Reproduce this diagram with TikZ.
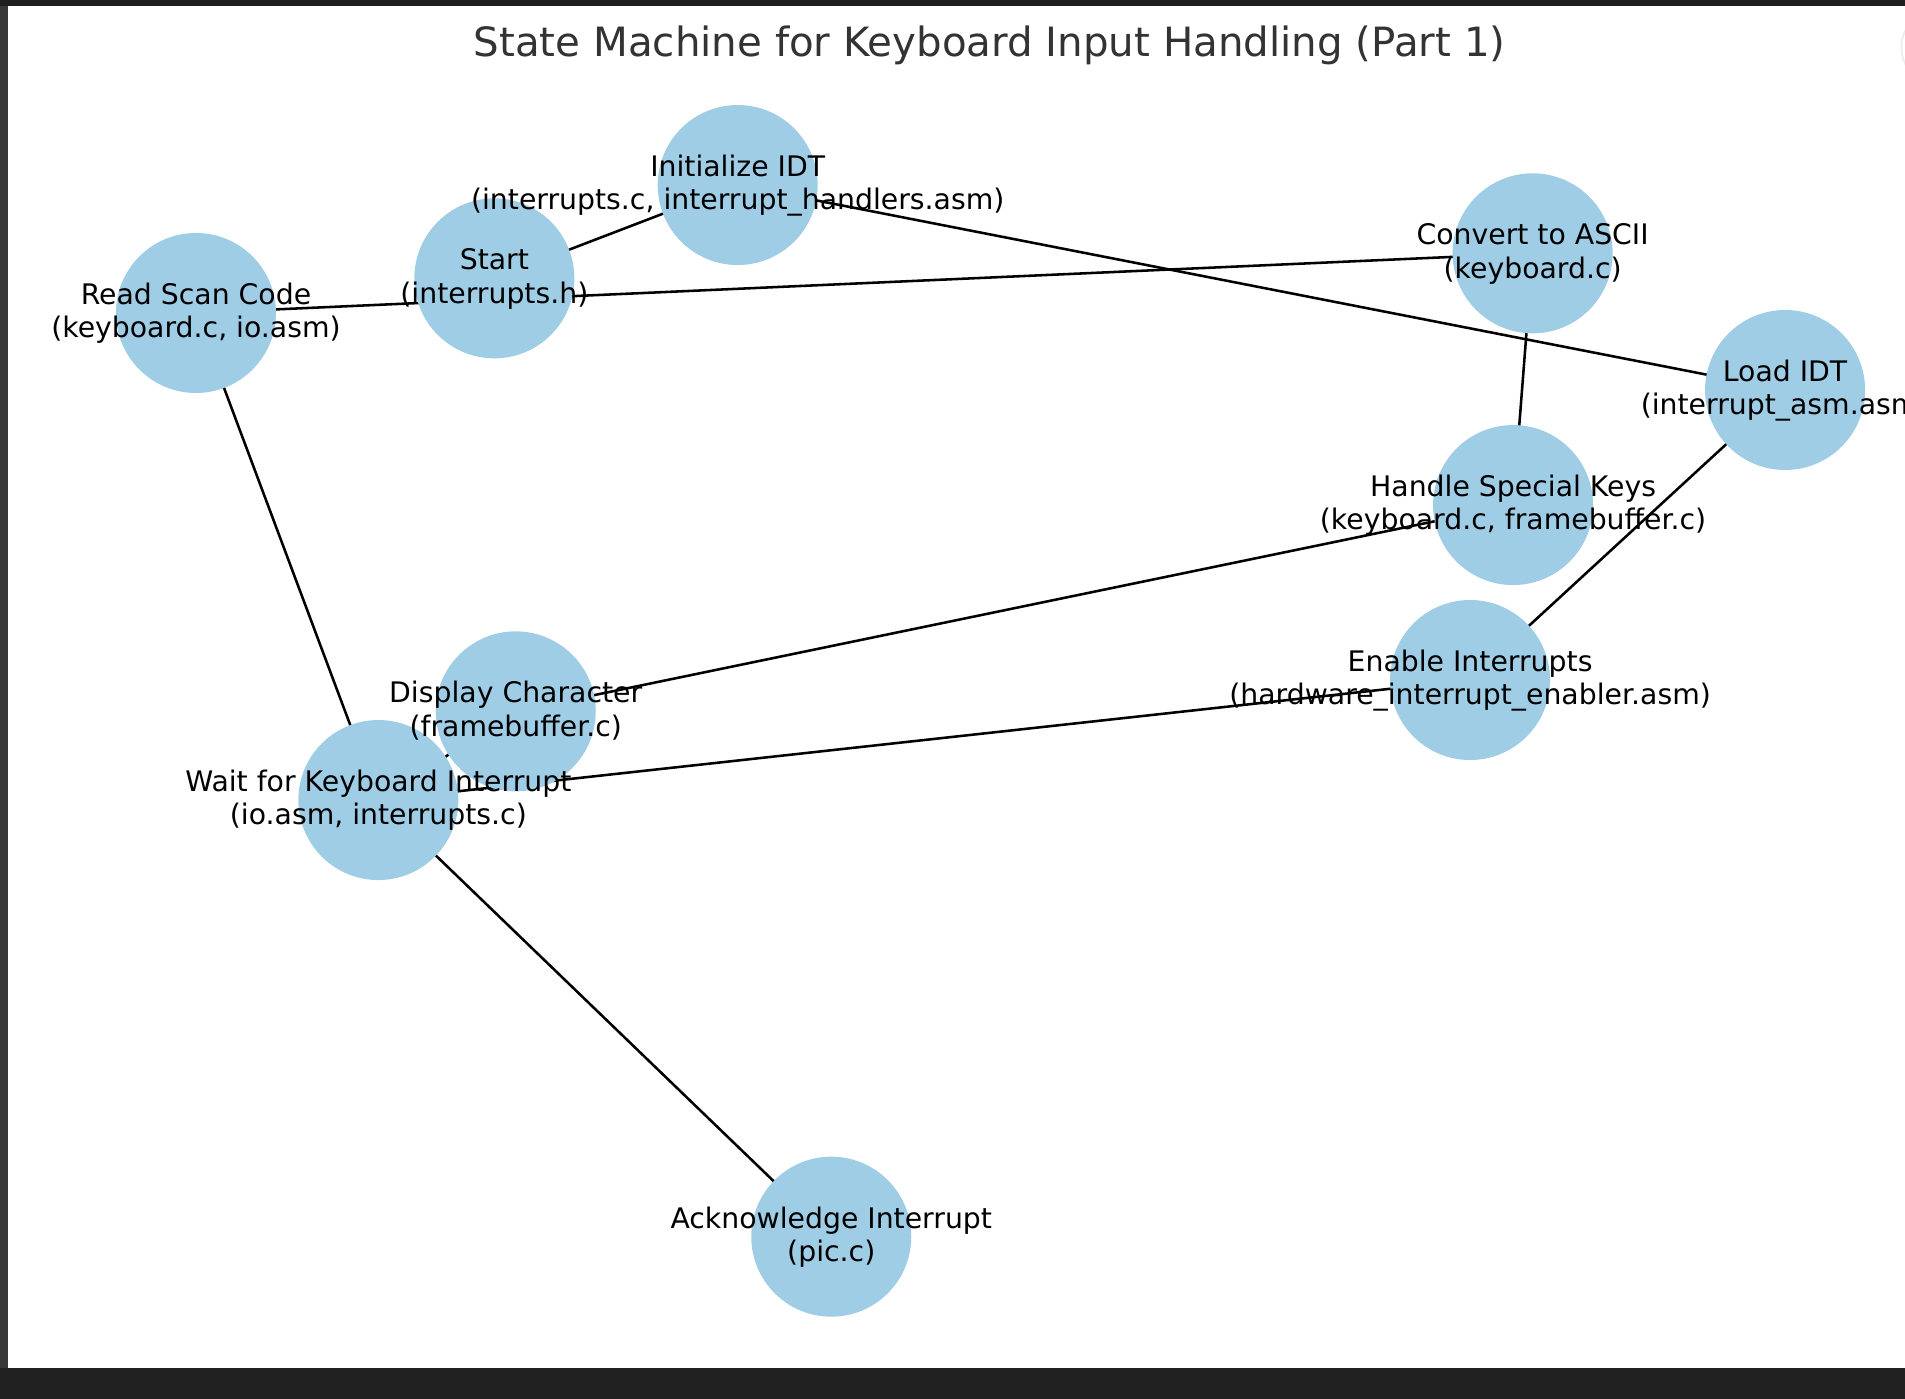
\documentclass[tikz,border=0pt]{standalone}
\usepackage{fontspec}
\setmainfont{DejaVu Sans}
\pgfdeclarelayer{bg}
\pgfsetlayers{bg,main}
\definecolor{nodeblue}{RGB}{160,205,230}
\definecolor{titlegray}{RGB}{51,51,51}
\definecolor{leftbar}{RGB}{56,56,56}
\definecolor{topbar}{RGB}{31,31,31}
\definecolor{botbar}{RGB}{33,33,33}
\tikzset{
  state/.style={circle, fill=nodeblue, draw=none, inner sep=0pt, minimum size=131.7pt},
  statelabel/.style={anchor=base, inner sep=0pt, text=black, font=\fontsize{23.3}{27.5}\selectfont},
  edge/.style={draw=black, line width=2.1pt},
}
\newcommand{\twoline}[2]{\begin{tabular}[t]{@{}c@{}}#1\\#2\end{tabular}}
\begin{document}
\begin{tikzpicture}[x=1pt,y=-1pt]
\useasboundingbox (0,0) rectangle (1568,1151.5);
\begin{pgfonlayer}{bg}
\fill[white] (0,0) rectangle (1568,1151.5);
\end{pgfonlayer}
% window chrome
\fill[leftbar] (0,0) rectangle (6.6,1151.5);
\fill[topbar] (0,0) rectangle (1568,4.8);
\fill[botbar] (0,1126) rectangle (1568,1151.5);
\draw[black!7, line width=1.5pt, fill=white] (1596,39) circle (31);
% title
\node[anchor=base, inner sep=0pt, text=titlegray, font=\fontsize{33.2}{40}\selectfont] (title) at (814.5,46.6) {State Machine for Keyboard Input Handling (Part 1)};
% states
\node[state] (start) at (406.9,229.1) {};
\node[state] (init)  at (607.2,152.3) {};
\node[state] (rsc)   at (161.3,257.6) {};
\node[state] (conv)  at (1261.5,208.5) {};
\node[state] (load)  at (1469.3,321.0) {};
\node[state] (hsk)   at (1245.4,415.7) {};
\node[state] (en)    at (1210.0,559.7) {};
\node[state] (disp)  at (424.5,585.5) {};
\node[state] (wait)  at (311.4,658.5) {};
\node[state] (ack)   at (684.2,1017.9) {};
% edges (beneath the states)
\begin{pgfonlayer}{bg}
\draw[edge] (start.center) -- (init.center);
\draw[edge] (rsc.center) -- (conv.center);
\draw[edge] (init.center) -- (load.center);
\draw[edge] (conv.center) -- (hsk.center);
\draw[edge] (load.center) -- (en.center);
\draw[edge] (hsk.center) -- (disp.center);
\draw[edge] (en.center) -- (wait.center);
\draw[edge] (rsc.center) -- (wait.center);
\draw[edge] (wait.center) -- (ack.center);
\draw[edge] (disp.center) -- (wait.center);
\end{pgfonlayer}
% labels
\node[statelabel] (start-t) at ([yshift=7pt]start.center) {\twoline{Start}{(interrupts.h)}};
\node[statelabel] (init-t)  at ([yshift=7pt]init.center) {\twoline{Initialize IDT}{(interrupts.c, interrupt\_handlers.asm)}};
\node[statelabel] (rsc-t)   at ([yshift=7pt]rsc.center) {\twoline{Read Scan Code}{(keyboard.c, io.asm)}};
\node[statelabel] (conv-t)  at ([yshift=7pt]conv.center) {\twoline{Convert to ASCII}{(keyboard.c)}};
\node[statelabel] (load-t)  at ([yshift=7pt]load.center) {\twoline{Load IDT}{(interrupt\_asm.asm)}};
\node[statelabel] (hsk-t)   at ([yshift=7pt]hsk.center) {\twoline{Handle Special Keys}{(keyboard.c, framebuffer.c)}};
\node[statelabel] (en-t)    at ([yshift=7pt]en.center) {\twoline{Enable Interrupts}{(hardware\_interrupt\_enabler.asm)}};
\node[statelabel] (disp-t)  at ([yshift=7pt]disp.center) {\twoline{Display Character}{(framebuffer.c)}};
\node[statelabel] (wait-t)  at ([yshift=7pt]wait.center) {\twoline{Wait for Keyboard Interrupt}{(io.asm, interrupts.c)}};
\node[statelabel] (ack-t)   at ([yshift=7pt]ack.center) {\twoline{Acknowledge Interrupt}{(pic.c)}};
\end{tikzpicture}
\end{document}
